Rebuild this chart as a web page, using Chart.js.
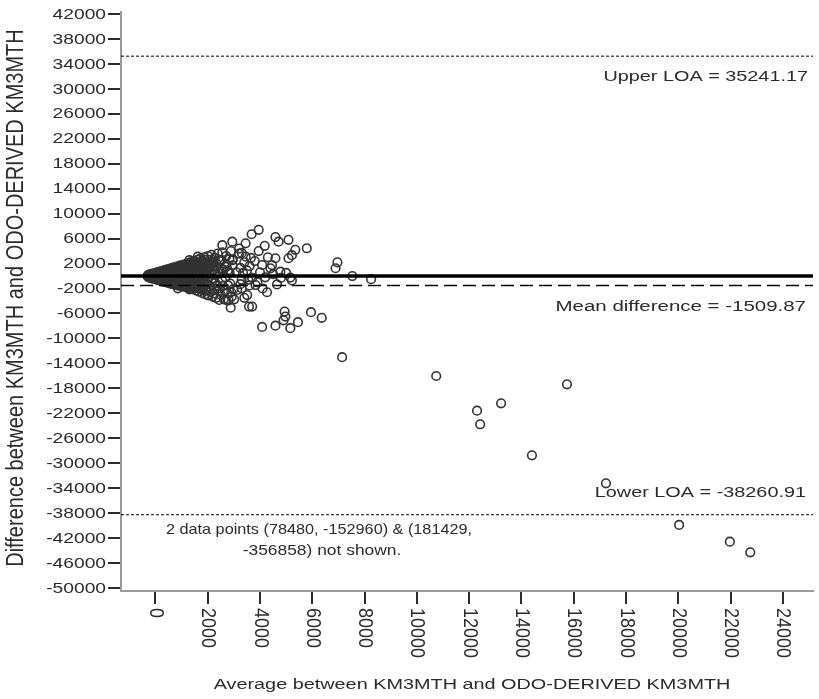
<!DOCTYPE html>
<html><head><meta charset="utf-8">
<script src="https://cdn.jsdelivr.net/npm/chart.js@4.4.1/dist/chart.umd.min.js"></script>
<style>html,body{margin:0;padding:0;background:#fff}canvas{display:block}</style>
</head><body>
<canvas id="c" width="819" height="699"></canvas>
<script>
// ---- data ----
const xTickValues = [0, 2000, 4000, 6000, 8000, 10000, 12000, 14000, 16000, 18000, 20000, 22000, 24000];
const yTickValues = [42000, 38000, 34000, 30000, 26000, 22000, 18000, 14000, 10000, 6000, 2000, -2000, -6000, -10000,
  -14000, -18000, -22000, -26000, -30000, -34000, -38000, -42000, -46000, -50000];
const upperLOA = 35241.17;
const meanDiff = -1509.87;
const lowerLOA = -38260.91;
const zeroRef = 0;
const xMin = -1316, xMax = 25153, yMin = -50483, yMax = 42320;
const xTitle = 'Average between KM3MTH and ODO-DERIVED KM3MTH';
const yTitle = 'Difference between KM3MTH and ODO-DERIVED KM3MTH';
const noteLines = ['2 data points (78480, -152960) & (181429,', '-356858) not shown.'];

// dense core of the cloud  [average, difference]
const corePoints = [
  [-300,50],[-280,-120],[-260,180],[-240,-60],[-220,260],[-200,-250],[-180,120],[-160,-330],[-140,350],[-120,-30],
  [-100,-420],[-80,240],[-60,420],[-40,-180],[-20,-500],[0,100],[10,520],[30,-380],[50,260],[70,-600],
  [90,620],[110,-150],[130,380],[150,-700],[170,700],[190,-420],[210,120],[230,-820],[250,800],[270,-250],
  [290,480],[310,-900],[330,900],[350,-500],[370,300],[390,1000],[410,-1000],[430,-100],[450,600],[470,-750],
  [490,1100],[510,-1150],[530,150],[550,800],[570,-400],[590,1250],[610,-1250],[630,-750],[650,450],[670,1350],
  [690,-300],[710,-1350],[730,950],[750,100],[770,1450],[790,-900],[810,-1450],[830,600],[850,1550],[870,-550],
  [890,-1550],[910,1150],[930,-100],[950,1700],[970,-1200],[990,400],[1010,-1650],[1030,1300],[1050,-700],[1070,1800],
  [1090,200],[1110,-1750],[1130,900],[1150,-300],[1170,1950],[1190,-1350],[1210,600],[1230,-1850],[1250,1500],[1270,-900],
  [1290,2100],[1310,-200],[1330,-1950],[1350,1100],[1370,2250],[1390,-1500],[1410,400],[1430,-2100],[1450,1800],[1470,-600],
  [1490,2400],[1510,-1700],[1530,900],[1550,-2300],[1570,2100],[1590,-100],[1610,2600],[1630,-1300],[1650,1400],[1670,-2500],
  [1690,500],[1710,2800],[1730,-1900],[1750,1900],[1770,-700],[1790,-2700],[1810,2400],[1830,1000],[1850,-1400],[1870,3000],
  [1890,-2900],[1910,200],[1930,2100],[1950,-2200],[1970,1400],[1990,-800],[2010,3200],[2030,-3100],[2050,600],[2070,2600],
  [2090,-1700],[2110,-2600],[2130,1800],[2150,3400],[2170,-400],[2190,-3300],[2210,2200],[2230,1000],[2250,-2000],[2270,2900],
  [2290,-1100],[2320,-3500],[2350,1500],[2380,3600],[2410,-2400],[2440,400],[2470,2500],[2500,-3000],[2530,1200],[2560,3800],
  [2590,-1600],[2620,-3700],[2650,2000],[2680,-200],[2710,3200],[2740,-2700],[2770,900],[2800,-3900],[2830,2700],[2860,-1200],
  [2890,4000],[2920,-3300],[2950,1700],[2980,-2100]
];

// more points packed inside the core
const innerPoints = [
  [-290,-20],[-270,90],[-250,-200],[-230,30],[-210,-90],[-190,200],[-170,-10],[-150,-150],[-130,150],[-110,250],
  [-90,-80],[-70,-300],[-50,60],[-30,300],[-10,-250],[20,180],[40,-100],[60,400],[80,-450],[100,300],
  [120,-320],[140,550],[160,-50],[180,250],[200,-550],[220,450],[240,-100],[260,-480],[280,200],[300,650],
  [320,-600],[340,350],[360,-200],[380,700],[400,-700],[420,500],[440,-350],[460,850],[480,-100],[500,400],
  [520,-850],[540,-300],[560,1000],[580,300],[600,-950],[620,700],[640,-200],[660,-1050],[680,850],[700,300],
  [720,-600],[740,1150],[760,-1000],[780,500],[800,-200],[820,1100],[840,-1250],[860,800],[880,300],[900,-800],
  [920,1400],[940,-1400],[960,900],[980,-300],[1000,1500],[1020,-1000],[1040,500],[1060,-1500],[1080,1100],[1100,-300],
  [1120,1600],[1140,-1100],[1160,300],[1180,1300],[1200,-800],[1220,-1600],[1240,800],[1260,1900],[1280,-400],[1300,-1200],
  [1320,1600],[1340,-700],[1360,600],[1380,-1700],[1400,1400],[1420,-900],[1440,2000],[1460,-100],[1480,-1900],[1500,1100],
  [1520,-1000],[1540,1700],[1560,300],[1580,-1500],[1600,2000],[1620,-600],[1640,-2000],[1660,900],[1680,1700],[1700,-1200],
  [1720,200],[1740,2300],[1760,-2100],[1780,1200],[1800,-300],[1820,-1800],[1840,1800],[1860,700],[1880,-1000],[1900,2600],
  [1920,-2300],[1940,1000],[1960,-1300],[1980,2000],[2000,-200],[2040,1300],[2080,-2200],[2120,2300],[2160,-1000],[2200,1500],
  [2240,-2800],[2280,300],[2330,2000],[2370,-1500],[2420,1200],[2460,-2000],[2510,2600],[2550,-700],[2600,1000],[2660,-2300],
  [2720,1500],[2780,-1500],[2840,500],[2900,-2600],[2960,2600]
];

// wider scatter around the core
const spreadPoints = [
  [1620,3100],[1300,2550],[2440,2550],[2560,4950],[2940,5500],[3450,5250],[2940,2550],[3450,3100],[4080,1770],[4400,1240],
  [4780,700],[1800,-2240],[2000,-3050],[1300,-2130],[860,-1970],[2440,-3840],[2880,-5075],[3130,-2240],[3830,-1440],[2690,-3840],
  [3010,-3730],[3950,7400],[3680,6700],[4590,6250],[4710,5500],[5090,5800],[4180,4850],[3950,4000],[5790,4450],[5350,4200],
  [5220,3350],[5090,2850],[4590,2850],[4460,1750],[6960,2200],[6890,1250],[7530,0],[8250,-500],[5160,-250],[5220,-700],
  [4650,-1350],[4270,-2600],[3510,-3050],[3580,-4900],[3700,-4900],[4940,-5700],[4970,-6500],[5950,-5800],[6360,-6700],[5450,-7400],
  [4590,-7950],[4080,-8150],[5160,-8350],[4900,-7100],[3200,3600],[3300,-600],[3500,900],[3600,1600],[3700,-300],[3800,2400],
  [3900,-1000],[4000,600],[4200,-200],[4300,3000],[3300,-2000],[3100,600],[3400,-3500],[3600,-1500],[4100,-2000],[4500,300],
  [4800,-300],[5000,500],[3200,4400],[3300,3700],[3400,2200],[3250,1300],[3350,500],[3550,-600],[3650,2900],[3250,-1300]
];

// isolated large-average points
const outlierPoints = [
  [7140,-13000],[10740,-16020],[12300,-21580],[12420,-23760],[13220,-20400],[15740,-17350],[14400,-28730],
  [17230,-33220],[20030,-39900],[21970,-42580],[22750,-44280]
];

// ---- chart ----
const toXY = a => a.map(p => ({x: p[0], y: p[1]}));
const hLine = v => [{x: xMin, y: v}, {x: xMax, y: v}];
const FONT = '"Liberation Sans", Arial, sans-serif';

function drawText(ctx, s, x, y, o) {
  ctx.save();
  ctx.translate(x, y);
  ctx.scale(o.sx || 1, 1);
  if (o.rot) ctx.rotate(o.rot);
  ctx.font = o.size + 'px ' + FONT;
  ctx.fillStyle = o.color || '#2b2b2b';
  ctx.textAlign = o.align || 'left';
  ctx.textBaseline = o.baseline || 'middle';
  ctx.fillText(s, 0, 0);
  ctx.restore();
}

const textPlugin = {
  id: 'texts',
  afterDraw(chart) {
    const ctx = chart.ctx;
    const xs = chart.scales.x, ys = chart.scales.y;
    const area = chart.chartArea;
    yTickValues.forEach(v => {
      drawText(ctx, String(v), area.left - 15, ys.getPixelForValue(v) + 0.5, {size: 15, sx: 1.28, align: 'right'});
    });
    xTickValues.forEach(v => {
      drawText(ctx, String(v), xs.getPixelForValue(v), area.bottom + 17, {size: 18, sx: 1.1, rot: Math.PI / 2, align: 'left'});
    });
    drawText(ctx, xTitle, 472, 685, {size: 15.5, sx: 1.28, align: 'center'});
    drawText(ctx, yTitle, 17, 298, {size: 20, sx: 1.15, rot: -Math.PI / 2, align: 'center'});
    const rx = 808;
    drawText(ctx, 'Upper LOA = ' + upperLOA.toFixed(2), rx, ys.getPixelForValue(upperLOA) + 21, {size: 15.5, sx: 1.28, align: 'right'});
    drawText(ctx, 'Mean difference = ' + meanDiff.toFixed(2), rx - 2, ys.getPixelForValue(meanDiff) + 21, {size: 15.5, sx: 1.32, align: 'right'});
    drawText(ctx, 'Lower LOA = ' + lowerLOA.toFixed(2), rx - 2, ys.getPixelForValue(lowerLOA) - 22, {size: 15.5, sx: 1.28, align: 'right'});
    drawText(ctx, noteLines[0], 319, 530, {size: 14.5, sx: 1.12, align: 'center'});
    drawText(ctx, noteLines[1], 322, 551, {size: 14.5, sx: 1.2, align: 'center'});
  }
};

const pointStyle = {
  type: 'scatter', pointRadius: 4.3, pointHoverRadius: 4.3, pointBorderWidth: 1.6,
  pointBorderColor: '#333', pointBackgroundColor: 'rgba(0,0,0,0)', order: 2
};
const lineStyle = (v, w, dash) => ({
  type: 'line', data: hLine(v), borderColor: '#000', borderWidth: w, borderDash: dash,
  pointRadius: 0, fill: false, order: 1, borderCapStyle: 'butt'
});

new Chart(document.getElementById('c'), {
  data: {
    datasets: [
      Object.assign({data: toXY(corePoints)}, pointStyle),
      Object.assign({data: toXY(innerPoints)}, pointStyle),
      Object.assign({data: toXY(spreadPoints)}, pointStyle),
      Object.assign({data: toXY(outlierPoints)}, pointStyle),
      lineStyle(zeroRef, 3.5, []),
      lineStyle(meanDiff, 1.5, [13, 6]),
      lineStyle(upperLOA, 1, [3, 2]),
      lineStyle(lowerLOA, 1, [3, 2])
    ]
  },
  options: {
    responsive: false, animation: false, devicePixelRatio: 1,
    layout: {padding: {left: 108, right: 0, top: 12, bottom: 95}},
    plugins: {legend: {display: false}, tooltip: {enabled: false}},
    scales: {
      x: {
        type: 'linear', min: xMin, max: xMax,
        afterBuildTicks: s => { s.ticks = xTickValues.map(v => ({value: v})); },
        ticks: {display: false},
        grid: {drawOnChartArea: false, drawTicks: true, tickLength: 13, color: '#2b2b2b', lineWidth: 2},
        border: {display: true, color: '#9a9a9a', width: 2}
      },
      y: {
        type: 'linear', min: yMin, max: yMax,
        afterBuildTicks: s => { s.ticks = yTickValues.map(v => ({value: v})); },
        ticks: {display: false},
        grid: {drawOnChartArea: false, drawTicks: true, tickLength: 13, color: '#2b2b2b', lineWidth: 2},
        border: {display: true, color: '#9a9a9a', width: 2}
      }
    }
  },
  plugins: [textPlugin]
});
</script>
</body></html>
